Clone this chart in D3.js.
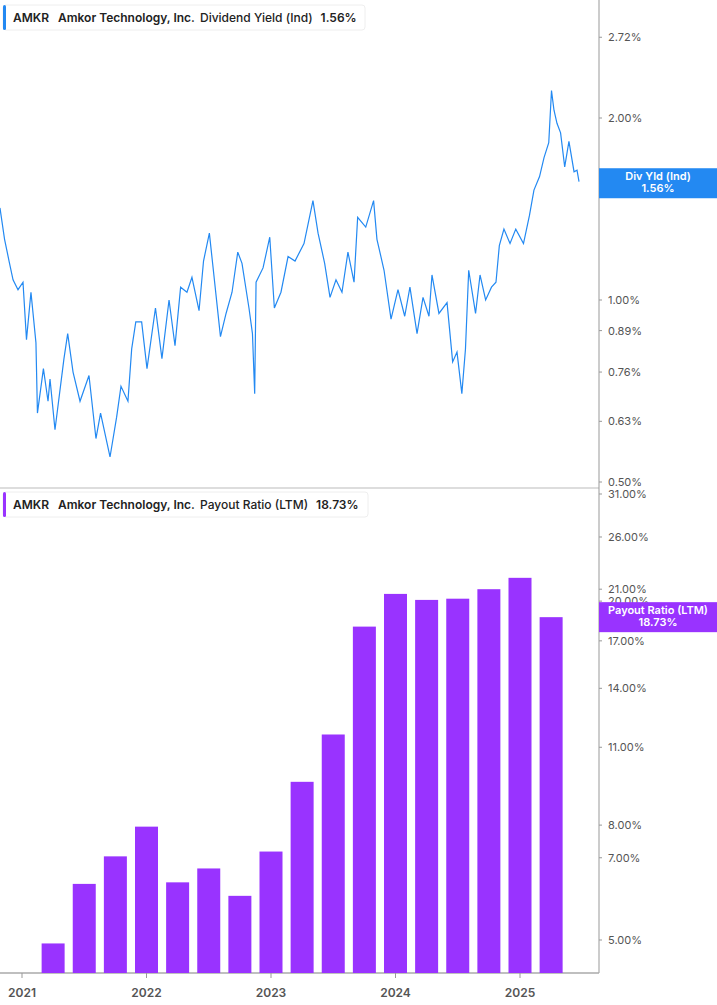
<!DOCTYPE html>
<html><head><meta charset="utf-8">
<script src="https://cdn.jsdelivr.net/npm/d3@7"></script>
<style>body{margin:0;background:#fff;font-family:Inter,Roboto,sans-serif}</style>
</head><body><svg id="c" width="717" height="1005"></svg>
<script>
const yieldDates=[2020.823,2020.860,2020.896,2020.928,2020.968,2021.008,2021.036,2021.072,2021.112,2021.124,2021.172,2021.209,2021.225,2021.265,2021.337,2021.367,2021.410,2021.466,2021.538,2021.594,2021.631,2021.707,2021.760,2021.795,2021.851,2021.881,2021.914,2021.961,2022.004,2022.072,2022.124,2022.181,2022.229,2022.274,2022.325,2022.365,2022.422,2022.458,2022.505,2022.531,2022.594,2022.639,2022.687,2022.733,2022.767,2022.823,2022.851,2022.869,2022.880,2022.936,2022.990,2023.027,2023.080,2023.137,2023.193,2023.265,2023.337,2023.378,2023.431,2023.474,2023.522,2023.570,2023.618,2023.667,2023.696,2023.761,2023.824,2023.851,2023.908,2023.964,2024.020,2024.074,2024.116,2024.173,2024.221,2024.269,2024.293,2024.349,2024.414,2024.459,2024.494,2024.533,2024.562,2024.588,2024.643,2024.679,2024.724,2024.771,2024.807,2024.834,2024.871,2024.920,2024.966,2025.028,2025.076,2025.112,2025.157,2025.193,2025.231,2025.253,2025.273,2025.297,2025.326,2025.359,2025.393,2025.434,2025.458,2025.474];
const yieldValues=[1.42,1.26,1.16,1.08,1.04,1.07,0.86,1.03,0.85,0.65,0.77,0.68,0.74,0.61,0.80,0.88,0.76,0.68,0.75,0.59,0.65,0.55,0.64,0.72,0.68,0.83,0.92,0.92,0.77,0.97,0.80,1.00,0.84,1.05,1.03,1.09,0.96,1.16,1.29,1.15,0.87,0.95,1.03,1.20,1.15,0.97,0.88,0.70,1.07,1.13,1.27,0.97,1.03,1.18,1.16,1.24,1.46,1.29,1.15,1.01,1.08,1.03,1.20,1.07,1.37,1.32,1.46,1.26,1.12,0.93,1.04,0.94,1.05,0.88,1.01,0.94,1.10,0.95,0.99,0.79,0.82,0.70,0.83,1.12,0.95,1.10,1.00,1.05,1.07,1.23,1.31,1.24,1.31,1.24,1.38,1.52,1.60,1.72,1.82,2.22,2.06,1.96,1.89,1.66,1.83,1.63,1.64,1.57];
const barDates=[2021.25,2021.5,2021.75,2022.0,2022.25,2022.5,2022.75,2023.0,2023.25,2023.5,2023.75,2024.0,2024.25,2024.5,2024.75,2025.0,2025.25];
const payoutValues=[4.93,6.29,7.04,7.95,6.33,6.70,5.99,7.18,9.55,11.59,18.02,20.6,20.1,20.2,21.0,22.0,18.73];
const yieldTicks=[0.5,0.63,0.76,0.89,1.0,2.0,2.72];
const payoutTicks=[5,7,8,11,14,17,20,21,26,31];
const yearTicks=[2021,2022,2023,2024,2025];

const svg=d3.select("#c");
const x=d3.scaleLinear().domain([2021,2025]).range([22,520]);
const yT=d3.scaleLog().domain([0.5,2.0]).range([482,118]);
const yB=d3.scaleLog().domain([5,31]).range([940,494]);
const axisX=599, base=973;
const blue="#2389f2", purple="#9933ff";

// separator & axes
svg.append("line").attr("x1",0).attr("x2",axisX).attr("y1",488).attr("y2",488).attr("stroke","#ddd").attr("stroke-width",2);
svg.append("line").attr("x1",axisX).attr("x2",axisX).attr("y1",0).attr("y2",base).attr("stroke","#999");
svg.append("line").attr("x1",0).attr("x2",axisX).attr("y1",base).attr("y2",base).attr("stroke","#aaa").attr("stroke-width",1.5);

const fmt=v=>v.toFixed(2)+"%";
function yTicks(scale,ticks){
  const g=svg.append("g");
  ticks.forEach(t=>{
    g.append("line").attr("x1",axisX).attr("x2",axisX+3).attr("y1",scale(t)).attr("y2",scale(t)).attr("stroke","#999");
    g.append("text").attr("x",axisX+9).attr("y",scale(t)+4).text(fmt(t)).attr("font-size",11).attr("fill","#555");
  });
}
yTicks(yT,yieldTicks); yTicks(yB,payoutTicks);

yearTicks.forEach(t=>{
  svg.append("line").attr("x1",x(t)).attr("x2",x(t)).attr("y1",base).attr("y2",base+5).attr("stroke","#999");
  svg.append("text").attr("x",x(t)).attr("y",997).attr("text-anchor","middle").attr("font-size",12).attr("font-weight",600).attr("fill","#555").text(t);
});

// line
const line=d3.line().x((d,i)=>x(yieldDates[i])).y(d=>yT(d));
svg.append("path").datum(yieldValues).attr("d",line).attr("fill","none").attr("stroke",blue).attr("stroke-width",1.2);

// bars
const bw=23;
svg.selectAll("rect.bar").data(payoutValues).enter().append("rect").attr("class","bar")
 .attr("x",(d,i)=>x(barDates[i])-bw/2).attr("width",bw)
 .attr("y",d=>yB(d)).attr("height",d=>base-yB(d)).attr("fill",purple);

// legends
function legend(y,color,label,val,w){
  const g=svg.append("g");
  g.append("rect").attr("x",3).attr("y",y).attr("width",w).attr("height",25).attr("rx",3).attr("fill","#fff").attr("stroke","#eee");
  g.append("rect").attr("x",3).attr("y",y).attr("width",3).attr("height",25).attr("rx",1.5).attr("fill",color);
  const t=g.append("text").attr("x",13).attr("y",y+17).attr("font-size",12).attr("fill","#222").attr("font-weight",600);
  t.append("tspan").text("AMKR");
  t.append("tspan").attr("x",58).text("Amkor Technology, Inc.");
  t.append("tspan").attr("x",200).attr("font-weight",500).text(label);
  t.append("tspan").attr("dx",8).text(val);
}
legend(5,blue,"Dividend Yield (Ind)","1.56%",362);
legend(492,purple,"Payout Ratio (LTM)","18.73%",365);

// right labels
function tag(v,scale,color,l1){
  const cy=scale(v)+(color===blue?0:0);
  const g=svg.append("g");
  g.append("rect").attr("x",axisX).attr("y",cy-15).attr("width",717-axisX).attr("height",30).attr("fill",color);
  g.append("text").attr("x",658).attr("y",cy-3).attr("text-anchor","middle").attr("font-size",11).attr("font-weight",600).attr("fill","#fff").text(l1);
  g.append("text").attr("x",658).attr("y",cy+9).attr("text-anchor","middle").attr("font-size",11).attr("font-weight",600).attr("fill","#fff").text(fmt(v));
}
tag(1.56,yT,blue,"Div Yld (Ind)");
tag(18.73,yB,purple,"Payout Ratio (LTM)");
</script></body></html>
